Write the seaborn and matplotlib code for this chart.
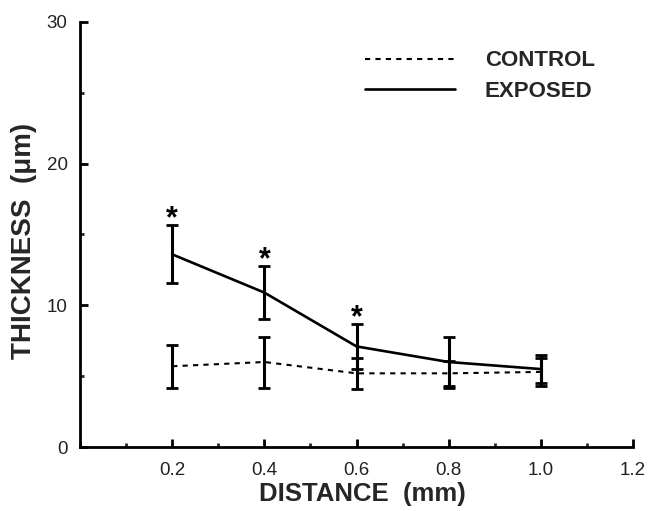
import matplotlib
matplotlib.use("Agg")
import matplotlib.pyplot as plt
import seaborn as sns
import pandas as pd
from matplotlib.lines import Line2D
from matplotlib.ticker import MultipleLocator, FixedLocator

distance = [0.2, 0.4, 0.6, 0.8, 1.0]
control_mean = [5.7, 6.0, 5.2, 5.2, 5.3]
control_err = [1.5, 1.8, 1.1, 0.9, 1.0]
exposed_mean = [13.6, 10.9, 7.1, 6.0, 5.5]
exposed_err = [2.05, 1.85, 1.6, 1.8, 1.0]
significant = [True, True, True, False, False]
x_ticks = [0.2, 0.4, 0.6, 0.8, 1.0, 1.2]
x_ticklabels = ["0.2", "0.4", "0.6", "0.8", "1.0", "1.2"]
y_ticks = [0, 10, 20, 30]

sns.set_theme(style="ticks")
plt.rcParams['font.family'] = ['Liberation Sans', 'DejaVu Sans']

df = pd.DataFrame({
    "distance": distance * 2,
    "thickness": control_mean + exposed_mean,
    "group": ["CONTROL"] * len(distance) + ["EXPOSED"] * len(distance),
})

fig = plt.figure(figsize=(6.51, 5.11), dpi=100)
ax = fig.add_axes([80 / 651, 1 - 447 / 511, (633 - 80) / 651, (447 - 22) / 511])

dash = (0, (2.5, 2.5))
sns.lineplot(data=df[df.group == "CONTROL"], x="distance", y="thickness", ax=ax,
             color="black", linewidth=1.5, linestyle=dash, legend=False)
sns.lineplot(data=df[df.group == "EXPOSED"], x="distance", y="thickness", ax=ax,
             color="black", linewidth=1.9, legend=False)

ax.errorbar(distance, control_mean, yerr=control_err, fmt="none", ecolor="black",
            elinewidth=2.2, capsize=4.5, capthick=2.0)
ax.errorbar(distance, exposed_mean, yerr=exposed_err, fmt="none", ecolor="black",
            elinewidth=2.2, capsize=4.5, capthick=2.0)

for x, m, e, s in zip(distance, exposed_mean, exposed_err, significant):
    if s:
        ax.text(x, m + e - 0.65, "*", ha="center", va="bottom", fontsize=22,
                fontweight="bold", color="black")

ax.set_xlim(0, 1.2)
ax.set_ylim(0, 30)
ax.xaxis.set_major_locator(FixedLocator(x_ticks))
ax.set_xticklabels(x_ticklabels)
ax.xaxis.set_minor_locator(MultipleLocator(0.1))
ax.yaxis.set_major_locator(FixedLocator(y_ticks))
ax.yaxis.set_minor_locator(MultipleLocator(5))

sns.despine(ax=ax)
for sp in ["left", "bottom"]:
    ax.spines[sp].set_linewidth(2.0)
    ax.spines[sp].set_color("black")

ax.tick_params(axis="x", which="major", direction="in", length=5.5, width=2,
               labelsize=13.5, pad=11, colors="black")
ax.tick_params(axis="x", which="minor", direction="in", length=3, width=2)
ax.tick_params(axis="y", which="major", direction="in", length=5.5, width=2,
               labelsize=13.5, pad=9, colors="black")
ax.tick_params(axis="y", which="minor", direction="in", length=3, width=2)
for lab in ax.get_xticklabels() + ax.get_yticklabels():
    lab.set_color("#222222")

ax.set_xlabel("DISTANCE  (mm)", fontsize=18.5, fontweight="bold")
ax.set_ylabel("THICKNESS  (μm)", fontsize=20, fontweight="bold")
ax.xaxis.set_label_coords(0.511, -0.083)
ax.yaxis.set_label_coords(-0.078, 0.485)

handles = [
    Line2D([], [], color="black", linewidth=1.5, linestyle=dash),
    Line2D([], [], color="black", linewidth=1.9),
]
leg = ax.legend(handles, ["CONTROL", "EXPOSED"], loc="upper left",
                bbox_to_anchor=(0.515, 0.933), frameon=False, handlelength=4.05,
                handletextpad=1.35, labelspacing=0.42, borderpad=0,
                borderaxespad=0, prop={"size": 16, "weight": "bold"})

fig.savefig("out.png", dpi=100)
